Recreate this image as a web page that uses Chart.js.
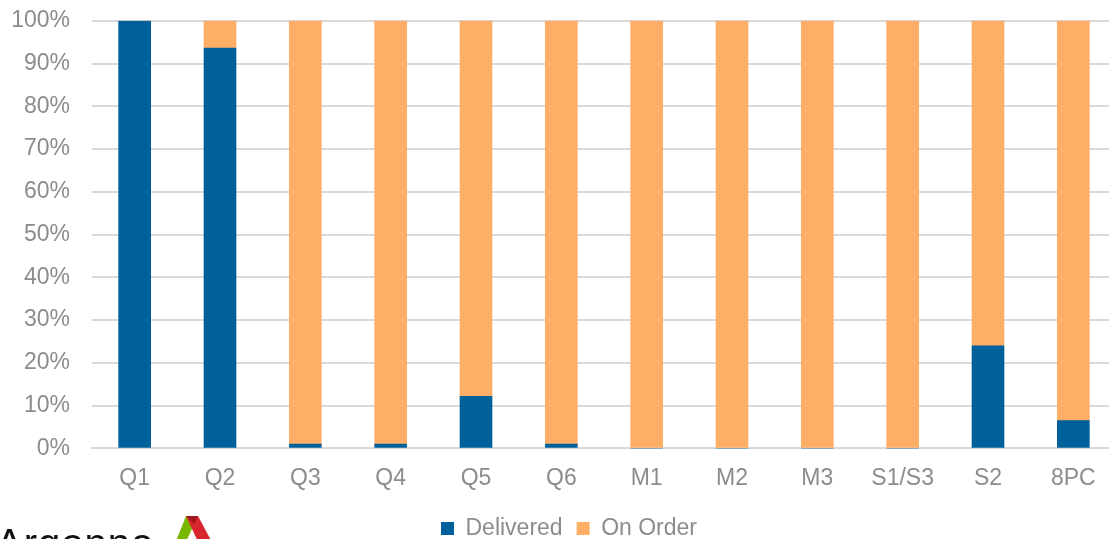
<!DOCTYPE html>
<html>
<head>
<meta charset="utf-8">
<script src="https://cdn.jsdelivr.net/npm/chart.js@4/dist/chart.umd.min.js"></script>
<style>
  html, body { margin: 0; padding: 0; background: #fff; overflow: hidden; }
  #wrap { position: relative; width: 1116px; height: 539px; overflow: hidden; }
  #deliveryChart { position: absolute; left: 0; top: -15px; }
  #logo { position: absolute; left: -4px; top: 521px; font: 40px "Liberation Sans", Arial, sans-serif; color: #111; letter-spacing: 1px; }
  #mark { position: absolute; left: 174px; top: 516px; }
</style>
</head>
<body>
<div id="wrap">
  <canvas id="deliveryChart" width="1116" height="562"></canvas>
  <div id="logo">Argonne</div>
  <svg id="mark" width="46" height="30">
    <polygon points="12,0 24,0 10,30 0,30" fill="#7ab800"/>
    <polygon points="12,0 24,0 40,30 26,30" fill="#d9262e"/>
    <polygon points="12,0 24,0 20,8" fill="#a3161c"/>
  </svg>
</div>
<script>
const categories = ['Q1', 'Q2', 'Q3', 'Q4', 'Q5', 'Q6', 'M1', 'M2', 'M3', 'S1/S3', 'S2', '8PC'];
const delivered = [100, 93.6, 1, 1, 12.2, 1, 0, 0, 0, 0, 24, 6.5];
const onOrder = [0, 6.4, 99, 99, 87.8, 99, 100, 100, 100, 100, 76, 93.5];
const yTicks = [0, 10, 20, 30, 40, 50, 60, 70, 80, 90, 100];

const font = { family: '"Liberation Sans", Arial, sans-serif', size: 23 };
const grey = '#8c8c8c';

// nudge the legend a little right and down from its default slot
const legendNudge = {
    id: 'legendNudge',
    afterLayout(chart) {
        chart.legend.left += 11;
        chart.legend.right += 11;
        chart.legend.top += 3;
    }
};

const ctx = document.getElementById('deliveryChart').getContext('2d');
new Chart(ctx, {
    type: 'bar',
    data: {
        labels: categories,
        datasets: [
            { label: 'Delivered', data: delivered, backgroundColor: '#00609C' },
            { label: 'On Order', data: onOrder, backgroundColor: '#FFAE66' }
        ]
    },
    options: {
        responsive: false,
        animation: false,
        layout: { padding: { top: 0, left: 0, right: 0, bottom: 0 } },
        datasets: { bar: { barThickness: 32 } },
        scales: {
            x: {
                stacked: true,
                grid: { display: false },
                border: { color: '#d9d9d9', width: 2 },
                ticks: { color: grey, font: font, padding: 8 }
            },
            y: {
                stacked: true,
                min: 0,
                max: 100,
                afterBuildTicks: axis => { axis.ticks = yTicks.map(v => ({ value: v })); },
                afterFit: axis => { axis.width = 92; },
                grid: { color: '#d9d9d9', lineWidth: 2, drawTicks: false },
                border: { display: false },
                ticks: { color: grey, font: font, padding: 22, callback: v => v + '%' }
            }
        },
        plugins: {
            legend: {
                position: 'bottom',
                labels: { color: grey, font: font, boxWidth: 13, boxHeight: 13, padding: 14 }
            },
            tooltip: { enabled: false }
        }
    },
    plugins: [legendNudge]
});
</script>
</body>
</html>
